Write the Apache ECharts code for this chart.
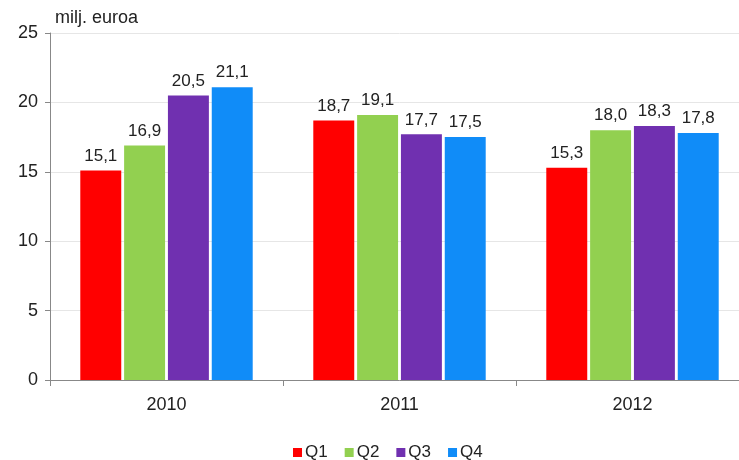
<!DOCTYPE html>
<html>
<head>
<meta charset="utf-8">
<script src="https://cdn.jsdelivr.net/npm/echarts@6/dist/echarts.min.js"></script>
<style>
  html, body { margin: 0; padding: 0; background: #fff; overflow: hidden; }
  #chart { width: 749px; height: 460px; }
</style>
</head>
<body>
<div id="chart"></div>
<script>
// vuodet ja neljännekset
const years = ['2010', '2011', '2012'];
const q1 = [15.1, 18.7, 15.3];
const q2 = [16.9, 19.1, 18.0];
const q3 = [20.5, 17.7, 18.3];
const q4 = [21.1, 17.5, 17.8];
const seriesNames = ['Q1', 'Q2', 'Q3', 'Q4'];
const colors = ['#ff0000', '#92d050', '#7030b0', '#108cf8'];

const font = 'Liberation Sans, Arial, sans-serif';

const makeSeries = (name, data, i) => ({
  name: name,
  type: 'bar',
  data: data,
  barGap: '7%',
  barCategoryGap: '26%',
  itemStyle: { color: colors[i] },
  label: {
    show: true,
    position: 'top',
    distance: 6,
    color: '#222',
    fontFamily: font,
    fontSize: 17,
    formatter: p => p.value.toFixed(1).replace('.', ',')
  }
});

// kaavio on hieman ikkunaa leveämpi, oikea reuna leikkautuu pois
const chart = echarts.init(document.getElementById('chart'));
chart.setOption({
  animation: false,
  color: colors,
  grid: { left: 50, right: 0, top: 33, bottom: 80 },
  legend: {
    top: 439,
    left: 288,
    icon: 'rect',
    itemWidth: 9,
    itemHeight: 9,
    itemGap: 17,
    textStyle: { fontFamily: font, fontSize: 17, color: '#222', padding: [0, 0, 0, -2] },
    data: seriesNames
  },
  xAxis: {
    type: 'category',
    data: years,
    axisLine: { lineStyle: { color: '#888' } },
    axisTick: { show: true, length: 6, lineStyle: { color: '#888' } },
    axisLabel: { fontFamily: font, fontSize: 18, color: '#222', margin: 16 }
  },
  yAxis: {
    type: 'value',
    min: 0,
    max: 25,
    interval: 5,
    name: 'milj. euroa',
    nameLocation: 'end',
    nameGap: 6,
    nameTextStyle: { fontFamily: font, fontSize: 18, color: '#222', align: 'left', padding: [0, 0, 0, 5] },
    axisLine: { show: true, lineStyle: { color: '#888' } },
    axisTick: { show: true, length: 5, lineStyle: { color: '#888' } },
    axisLabel: { fontFamily: font, fontSize: 18, color: '#222', margin: 12 },
    splitLine: { lineStyle: { color: '#e6e6e6' } }
  },
  series: [
    makeSeries('Q1', q1, 0),
    makeSeries('Q2', q2, 1),
    makeSeries('Q3', q3, 2),
    makeSeries('Q4', q4, 3)
  ]
});
</script>
</body>
</html>
